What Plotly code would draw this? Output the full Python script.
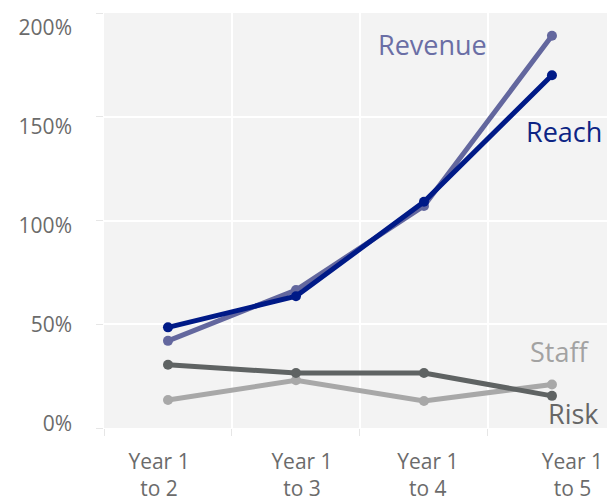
import plotly.graph_objects as go

categories = ["Year 1<br>to 2", "Year 1<br>to 3", "Year 1<br>to 4", "Year 1<br>to 5"]
revenue = [0.42, 0.665, 1.07, 1.89]
reach = [0.485, 0.635, 1.09, 1.70]
risk = [0.305, 0.265, 0.265, 0.155]
staff = [0.135, 0.23, 0.13, 0.21]
y_tick_vals = [0, 0.5, 1.0, 1.5, 2.0]
y_tick_text = ["0%", "50%", "100%", "150%", "200%"]

FONT = "Open Sans"
x = list(range(len(categories)))

series = [
    ("Staff", staff, "#a8a8a8"),
    ("Risk", risk, "#5f6363"),
    ("Revenue", revenue, "#63679e"),
    ("Reach", reach, "#001a87"),
]

fig = go.Figure()
for name, vals, col in series:
    fig.add_trace(go.Scatter(
        x=x, y=vals, mode="lines+markers", name=name,
        line=dict(color=col, width=5), marker=dict(color=col, size=10),
        showlegend=False, hoverinfo="skip",
    ))

labels = [
    ("Revenue", 1.85, "#6a6ea5"),
    ("Reach", 1.43, "#0d2484"),
    ("Staff", 0.37, "#a2a2a2"),
    ("Risk", 0.07, "#666666"),
]
label_x_px = [433, 564, 560, 574]
for (txt, yv, col), px in zip(labels, label_x_px):
    fig.add_annotation(x=(px - 168) / 128, y=yv, text=txt, showarrow=False,
                       font=dict(family=FONT, size=27, color=col), xref="x", yref="y")

x_label_pos = [-0.07, 1.047, 2.03, 3.16]

fig.update_layout(
    width=607, height=502,
    margin=dict(l=104, r=0, t=13, b=74, autoexpand=False),
    paper_bgcolor="white", plot_bgcolor="#f3f3f3",
    font=dict(family=FONT, size=21, color="#6b6b6b"),
    xaxis=dict(range=[-0.5, 3.43], tickvals=[-0.5, 0.5, 1.5, 2.5], showticklabels=False,
               ticks="outside", ticklen=7, tickcolor="#e6e6e6", gridcolor="white",
               gridwidth=2, zeroline=False, showline=False, automargin=False),
    yaxis=dict(range=[0, 2], tickvals=y_tick_vals, showticklabels=False,
               ticks="outside", ticklen=7, tickcolor="#e6e6e6", gridcolor="white",
               gridwidth=2, zeroline=False, showline=False, automargin=False),
    xaxis2=dict(overlaying="x", anchor="y", side="bottom", range=[-0.5, 3.43],
                tickvals=x_label_pos, ticktext=categories, showgrid=False,
                zeroline=False, ticks="", ticklabelstandoff=19, automargin=False,
                tickfont=dict(family=FONT, size=21, color="#6b6b6b")),
    yaxis2=dict(overlaying="y", anchor="x", side="left", range=[-0.0202, 2.0758],
                tickvals=y_tick_vals, ticktext=y_tick_text, showgrid=False,
                zeroline=False, ticks="", ticklabelstandoff=31, automargin=False,
                tickfont=dict(family=FONT, size=21, color="#6b6b6b")),
)
# dummy trace to activate overlay axes
fig.add_trace(go.Scatter(x=[None], y=[None], xaxis="x2", yaxis="y2", showlegend=False))

fig.write_html("out.html")
